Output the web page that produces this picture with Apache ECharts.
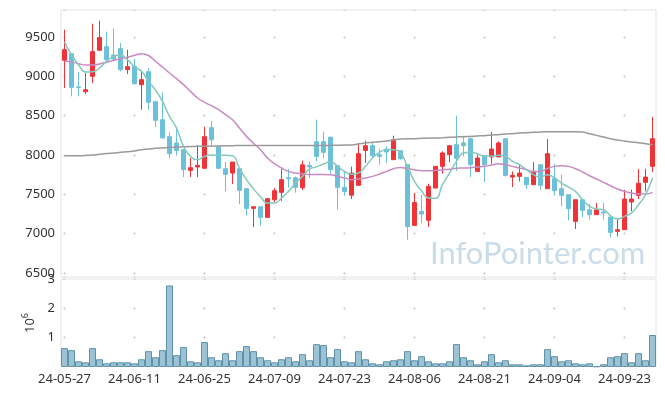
<!DOCTYPE html>
<html><head><meta charset="utf-8">
<script src="https://cdn.jsdelivr.net/npm/echarts@6/dist/echarts.min.js"></script>
<style>html,body{margin:0;padding:0;background:#fff}#c{width:665px;height:396px}</style>
</head><body><div id="c"></div>
<script>
const dates = ["24-05-27","24-05-28","24-05-29","24-05-30","24-05-31",
"24-06-03","24-06-04","24-06-05","24-06-07","24-06-10","24-06-11","24-06-12","24-06-13","24-06-14","24-06-17","24-06-18","24-06-19","24-06-20","24-06-21","24-06-24","24-06-25","24-06-26","24-06-27","24-06-28",
"24-07-01","24-07-02","24-07-03","24-07-04","24-07-05","24-07-08","24-07-09","24-07-10","24-07-11","24-07-12","24-07-15","24-07-16","24-07-17","24-07-18","24-07-19","24-07-22","24-07-23","24-07-24","24-07-25","24-07-26","24-07-29","24-07-30","24-07-31",
"24-08-01","24-08-02","24-08-05","24-08-06","24-08-07","24-08-08","24-08-09","24-08-12","24-08-13","24-08-14","24-08-16","24-08-19","24-08-20","24-08-21","24-08-22","24-08-23","24-08-26","24-08-27","24-08-28","24-08-29","24-08-30",
"24-09-02","24-09-03","24-09-04","24-09-05","24-09-06","24-09-09","24-09-10","24-09-11","24-09-12","24-09-13","24-09-19","24-09-20","24-09-23","24-09-24","24-09-25","24-09-26","24-09-27"];

const openP  = [9203,9288,8866,8805,9000,9331,9377,9270,9352,9085,9127,8894,9059,8678,8449,8233,8153,8068,7805,7848,7831,8348,8106,7826,7771,7826,7572,7322,7343,7208,7432,7526,7712,7712,7585,7867,8170,8170,8225,7864,7589,7490,7615,8059,8119,8004,8076,7941,8055,7877,7106,7284,7170,7581,7856,8004,8131,8153,8208,7792,7992,7975,7975,8208,7720,7729,7716,7623,7877,7572,7699,7572,7496,7157,7432,7305,7242,7275,7212,7030,7051,7403,7487,7653,7856];
const closeP = [9339,8860,8858,8830,9314,9492,9212,9220,9085,9123,8907,8958,8670,8441,8218,8017,8059,7814,7839,7869,8233,8194,7831,7754,7911,7551,7322,7343,7208,7445,7547,7687,7700,7589,7875,7850,7983,8034,7814,7589,7538,7771,8017,8119,7992,7983,8038,8195,7953,7093,7398,7250,7602,7856,8026,8119,7958,8119,7877,7962,7877,8076,8153,7742,7742,7771,7623,7781,7615,8017,7547,7487,7317,7432,7297,7242,7305,7263,7017,7051,7441,7441,7642,7720,8208];
const lowP   = [8852,8746,8746,8775,8915,9331,9191,9191,9064,9030,8894,8576,8576,8356,8204,7958,7992,7720,7720,7720,7831,8119,7831,7538,7631,7377,7229,7085,7102,7208,7403,7415,7585,7521,7555,7708,7920,7958,7763,7305,7487,7441,7615,7898,7962,7880,7898,7941,7941,6924,7106,7136,7085,7581,7763,7907,7797,7983,7720,7792,7657,7890,7975,7729,7593,7665,7568,7623,7559,7572,7496,7348,7170,7060,7212,7178,7242,7178,6953,6966,7051,7284,7441,7538,7784];
const highP  = [9593,9288,9055,9042,9669,9708,9568,9606,9424,9339,9220,9072,9106,8678,8797,8290,8343,8068,7962,8127,8360,8432,8106,7911,7911,7826,7572,7343,7343,7445,7581,7822,7822,7727,7930,7920,8449,8297,8237,7864,7784,7852,8153,8182,8153,8081,8110,8246,8055,7877,7517,7496,7636,7856,8047,8119,8500,8246,8208,8004,7992,8292,8174,8208,7792,7873,7716,7911,7877,8204,7890,7750,7496,7432,7432,7381,7390,7390,7212,7199,7559,7559,7822,7826,8483];

const ma5   = [9436,9275,9148,9055,9059,9106,9191,9254,9271,9212,9119,9064,8936,8825,8682,8492,8343,8110,7983,7941,7983,8000,7996,7996,7990,7830,7687,7570,7470,7390,7390,7453,7538,7644,7729,7822,7850,7885,7915,7856,7792,7755,7771,7856,7962,8034,8068,8068,8025,7856,7665,7545,7455,7450,7623,7771,7920,8025,8034,8017,7983,7983,7996,7983,7920,7877,7814,7750,7720,7750,7708,7644,7593,7538,7432,7348,7314,7305,7229,7187,7221,7263,7369,7496,7708];
const ma20  = [9191,9182,9161,9144,9144,9157,9178,9203,9225,9242,9267,9288,9265,9192,9119,9042,8970,8894,8809,8725,8670,8627,8576,8513,8449,8343,8237,8150,8068,7962,7890,7835,7792,7771,7759,7754,7754,7754,7750,7729,7708,7687,7695,7708,7729,7759,7792,7826,7843,7826,7814,7801,7801,7805,7814,7818,7831,7835,7839,7848,7856,7873,7890,7877,7856,7835,7814,7792,7792,7828,7856,7865,7856,7826,7784,7737,7695,7653,7610,7568,7538,7517,7504,7504,7525];
const ma120 = [7990,7991,7992,7995,8000,8009,8018,8025,8034,8043,8051,8068,8076,8085,8090,8096,8100,8104,8107,8110,8112,8114,8116,8118,8119,8120,8121,8121,8121,8121,8121,8121,8121,8120,8120,8120,8121,8122,8123,8124,8126,8128,8140,8153,8161,8170,8178,8191,8203,8208,8208,8212,8216,8216,8220,8225,8229,8233,8237,8242,8246,8254,8259,8267,8271,8280,8284,8288,8292,8297,8297,8297,8297,8297,8292,8271,8250,8229,8208,8191,8178,8165,8157,8144,8131];

const volume = [644000,575000,195000,161000,644000,264000,126000,161000,161000,161000,126000,264000,540000,333000,575000,2780000,402000,678000,195000,161000,850000,333000,230000,471000,230000,540000,713000,540000,333000,230000,161000,264000,333000,195000,437000,230000,780000,747000,333000,610000,195000,161000,540000,264000,126000,92000,195000,230000,264000,540000,230000,368000,195000,126000,126000,195000,780000,333000,230000,92000,195000,437000,161000,230000,92000,92000,57000,92000,92000,610000,368000,195000,230000,126000,92000,126000,23000,92000,333000,368000,471000,161000,471000,230000,1090000];

const priceMin = 6450, priceMax = 9843;
const volMax = 3000000, volStep = 1000000;
const labelEvery = 10;

const candles = dates.map((d, i) => [openP[i], closeP[i], lowP[i], highP[i]]);

const FONT = 'Noto Sans';
const GL = '#d9d9d9';
const chart = echarts.init(document.getElementById('c'), null, {renderer: 'canvas'});

function lineSeries(data, color) {
  return {type: 'line', xAxisIndex: 0, yAxisIndex: 0, data: data, smooth: true, showSymbol: false, symbol: 'none',
    lineStyle: {color: color, width: 1.5}, z: 3};
}
// hidden twin y axes: their split lines, drawn 3px thick with 1px dashes, give the vertical arm of each grid cross
function armAxis(gi, extra) {
  return Object.assign({type: 'value', gridIndex: gi, position: 'right',
    axisLine: {show: false}, axisTick: {show: false}, axisLabel: {show: false},
    splitLine: {show: true, showMinLine: false, showMaxLine: false, lineStyle: {color: GL, width: 3, type: [1, 69], dashOffset: 0, cap: 'butt'}}}, extra);
}

const option = {
  animation: false,
  textStyle: {fontFamily: FONT},
  grid: [
    {left: 61, right: 9, top: 10, height: 267, show: true, borderColor: '#e4e4e4', borderWidth: 1},
    {left: 61, right: 9, top: 279, height: 88, show: true, borderColor: '#e4e4e4', borderWidth: 1}
  ],
  graphic: [{type: 'text', left: 430, top: 238, z: 1,
    style: {text: 'InfoPointer.com', fontSize: 31, fontFamily: 'Lato', fill: '#c9dce7'}}],
  xAxis: [
    {type: 'category', gridIndex: 0, data: dates, boundaryGap: true,
      axisLine: {show: false}, axisTick: {show: false}, axisLabel: {show: false}, splitLine: {show: false}},
    {type: 'category', gridIndex: 1, data: dates, boundaryGap: true,
      axisLine: {show: true, lineStyle: {color: '#ffffff', width: 2}}, axisTick: {show: false},
      axisLabel: {interval: labelEvery - 1, color: '#333', fontSize: 13, margin: 6, fontFamily: FONT},
      splitLine: {show: false}}
  ],
  yAxis: [
    {type: 'value', gridIndex: 0, min: priceMin, max: priceMax, splitNumber: 7, scale: true,
      axisLine: {show: false}, axisTick: {show: false},
      axisLabel: {showMinLabel: false, showMaxLabel: false, color: '#333', fontSize: 13, margin: 6, fontFamily: FONT, formatter: v => String(v)},
      splitLine: {show: true, lineStyle: {color: GL, width: 1, type: [3, 67], dashOffset: 68}}},
    {type: 'value', gridIndex: 1, min: 0, max: volMax, interval: volStep,
      name: '10{s|6}', nameLocation: 'middle', nameGap: 8, nameRotate: 90,
      nameTextStyle: {color: '#333', fontSize: 13, fontFamily: FONT, rich: {s: {fontSize: 9, fontFamily: FONT, color: '#333', padding: [0, 0, 9, 0]}}},
      axisLine: {show: false}, axisTick: {show: false},
      axisLabel: {color: '#333', fontSize: 13, margin: 6, fontFamily: FONT, formatter: v => v === 0 ? '' : String(v / 1e6)},
      splitLine: {show: true, lineStyle: {color: GL, width: 1, type: [3, 67], dashOffset: 68}}},
    armAxis(0, {min: priceMin, max: priceMax, splitNumber: 7, scale: true}),
    armAxis(1, {min: 0, max: volMax, interval: volStep})
  ],
  series: [
    {type: 'candlestick', xAxisIndex: 0, yAxisIndex: 0, data: candles, barWidth: 5, z: 2,
      itemStyle: {color: '#ef3438', color0: '#6cc0da', borderColor: '#ef3438', borderColor0: '#6cc0da', borderWidth: 1}},
    lineSeries(ma120, '#9a9a9a'),
    lineSeries(ma20, '#c98ac3'),
    lineSeries(ma5, '#84c9bd'),
    {type: 'bar', xAxisIndex: 1, yAxisIndex: 1, data: volume, barCategoryGap: '0%',
      itemStyle: {color: '#9cc3d3', borderColor: '#5f92aa', borderWidth: 1}}
  ]
};
chart.setOption(option);

// align dash patterns so the marks sit on the category centres every labelEvery days
function dashFor(startPix, centerPix, period, len) {
  const s = centerPix - len / 2 - startPix;
  const d = ((period - (s % period)) % period + period) % period;
  return {type: [len, period - len], dashOffset: d};
}
const pA = chart.convertToPixel({gridIndex: 0}, [0, 9500]);
const pB = chart.convertToPixel({gridIndex: 0}, [labelEvery, 9000]);
const period = pB[0] - pA[0];
const hArm = dashFor(61, pA[0], period, 3);
const vArm = dashFor(61, pA[0], period, 1);
chart.setOption({
  yAxis: [{splitLine: {lineStyle: hArm}}, {splitLine: {lineStyle: hArm}}, {splitLine: {lineStyle: vArm}}, {splitLine: {lineStyle: vArm}}]
});
</script></body></html>
